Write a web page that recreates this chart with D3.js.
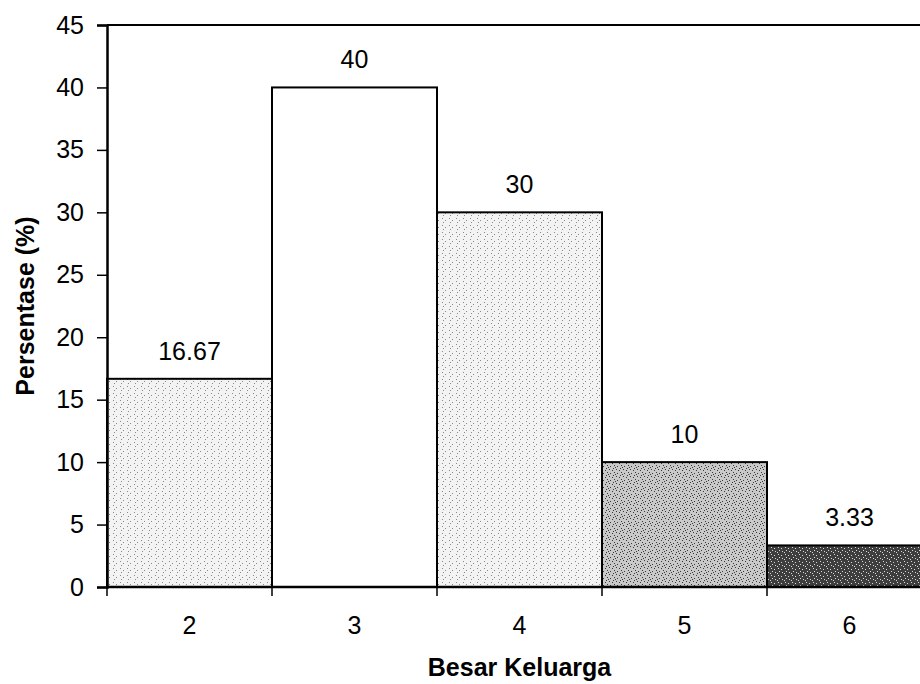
<!DOCTYPE html>
<html>
<head>
<meta charset="utf-8">
<script src="https://cdn.jsdelivr.net/npm/d3@7"></script>
<style>
  body { margin: 0; background: #fff; }
  svg { display: block; font-family: "Liberation Sans", Arial, sans-serif; }
</style>
</head>
<body>
<div id="chart"></div>
<script>
// data
var categories = ["2", "3", "4", "5", "6"];
var values = [16.67, 40, 30, 10, 3.33];
var valueLabels = ["16.67", "40", "30", "10", "3.33"];
var yTicks = [0, 5, 10, 15, 20, 25, 30, 35, 40, 45];
// fill style per bar (pattern ids)
var fills = ["light", "white", "light", "mid", "dark"];

var width = 920, height = 684;
var margin = { top: 25, right: -12, bottom: 97, left: 107 };
var fontSize = 25;

var svg = d3.select("#chart").append("svg")
    .attr("width", width)
    .attr("height", height);

// stipple-ish textures
var defs = svg.append("defs");
function stipple(id, bg, dot, spots) {
    var p = defs.append("pattern")
        .attr("id", id)
        .attr("patternUnits", "userSpaceOnUse")
        .attr("width", 7).attr("height", 7);
    p.append("rect").attr("width", 7).attr("height", 7).attr("fill", bg);
    spots.forEach(function(s) {
        p.append("rect").attr("x", s[0]).attr("y", s[1])
            .attr("width", 1).attr("height", 1).attr("fill", dot);
    });
}
stipple("light", "#f3f3f3", "#8a8a8a", [[1, 1], [4, 3], [2, 5]]);
stipple("mid", "#c9c9c9", "#3a3a3a", [[0, 0], [3, 1], [5, 3], [1, 4], [4, 6], [6, 5]]);
stipple("dark", "#3e3e3e", "#d8d8d8", [[1, 1], [4, 2], [2, 4], [5, 5], [0, 6]]);

var x = d3.scaleBand()
    .domain(categories)
    .range([margin.left, width - margin.right])
    .padding(0);

var y = d3.scaleLinear()
    .domain([0, 45])
    .range([height - margin.bottom, margin.top]);

// top frame line
svg.append("line")
    .attr("x1", margin.left).attr("x2", width - margin.right)
    .attr("y1", y(45)).attr("y2", y(45))
    .attr("stroke", "#000").attr("stroke-width", 2);

// bars
svg.append("g").selectAll("rect")
    .data(values)
    .enter()
    .append("rect")
    .attr("x", function(d, i) { return x(categories[i]); })
    .attr("y", function(d) { return y(d); })
    .attr("width", x.bandwidth())
    .attr("height", function(d) { return y(0) - y(d); })
    .attr("fill", function(d, i) { return fills[i] === "white" ? "#fff" : "url(#" + fills[i] + ")"; })
    .attr("stroke", "#000")
    .attr("stroke-width", 2);

// value labels
svg.append("g").selectAll("text")
    .data(values)
    .enter()
    .append("text")
    .attr("x", function(d, i) { return x(categories[i]) + x.bandwidth() / 2; })
    .attr("y", function(d) { return y(d) - 19; })
    .attr("text-anchor", "middle")
    .attr("font-size", fontSize)
    .text(function(d, i) { return valueLabels[i]; });

// y axis
var yAxis = svg.append("g")
    .attr("transform", "translate(" + margin.left + ",0)")
    .call(d3.axisLeft(y).tickValues(yTicks).tickSize(10).tickPadding(13));
yAxis.select(".domain").attr("stroke-width", 2.5);
yAxis.selectAll(".tick line").attr("stroke-width", 1.5);
yAxis.selectAll("text").attr("font-size", fontSize).attr("fill", "#000")
    .attr("font-family", "Liberation Sans, Arial, sans-serif");

// x axis, ticks sit on band edges
var xAxis = svg.append("g")
    .attr("transform", "translate(0," + y(0) + ")");
xAxis.append("line")
    .attr("x1", margin.left).attr("x2", width - margin.right)
    .attr("stroke", "#000").attr("stroke-width", 2.5);
xAxis.selectAll("line.tick")
    .data(categories)
    .enter()
    .append("line")
    .attr("class", "tick")
    .attr("x1", function(d) { return x(d); })
    .attr("x2", function(d) { return x(d); })
    .attr("y1", 0).attr("y2", 9)
    .attr("stroke", "#000").attr("stroke-width", 1.5);
xAxis.selectAll("text")
    .data(categories)
    .enter()
    .append("text")
    .attr("x", function(d) { return x(d) + x.bandwidth() / 2; })
    .attr("y", 47)
    .attr("text-anchor", "middle")
    .attr("font-size", fontSize)
    .text(function(d) { return d; });

// axis titles
svg.append("text")
    .attr("x", (margin.left + width - margin.right) / 2)
    .attr("y", 676)
    .attr("text-anchor", "middle")
    .attr("font-size", fontSize)
    .attr("font-weight", "bold")
    .text("Besar Keluarga");

svg.append("text")
    .attr("transform", "translate(34," + y(22.5) + ") rotate(-90)")
    .attr("text-anchor", "middle")
    .attr("font-size", fontSize)
    .attr("font-weight", "bold")
    .text("Persentase (%)");
</script>
</body>
</html>
